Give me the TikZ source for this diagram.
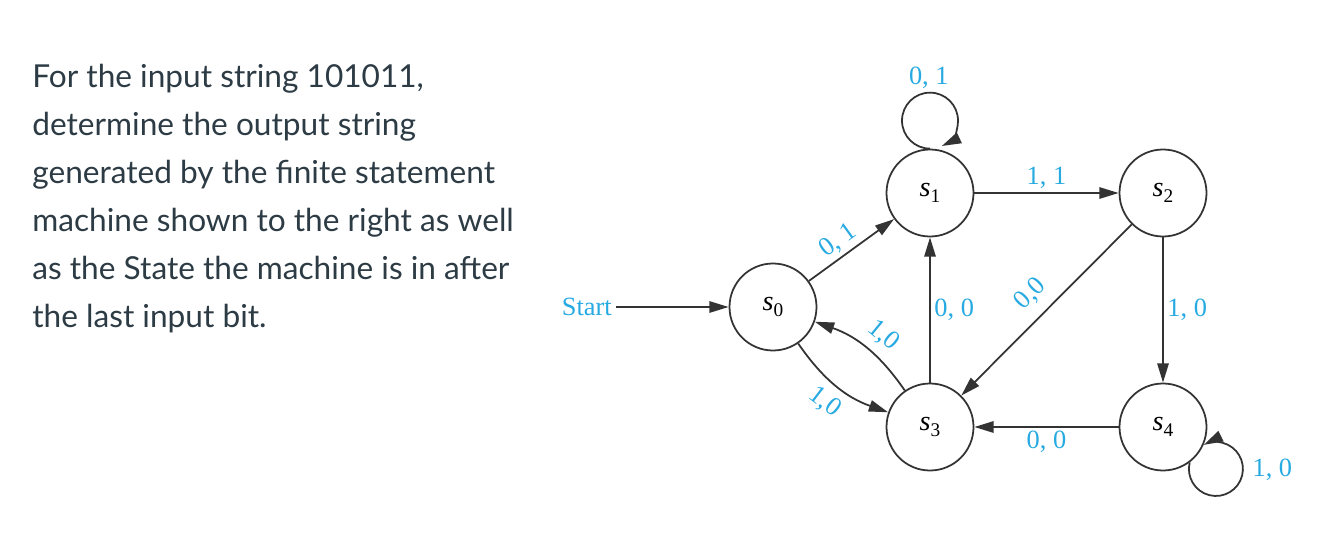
\documentclass[tikz,border=0pt]{standalone}
\usepackage{fontspec}
\setmainfont{Liberation Serif}
\newfontfamily\latofont{Lato}
\usetikzlibrary{arrows.meta,positioning,calc}
\usepackage{xcolor}
\definecolor{ink}{HTML}{2D3B45}
\definecolor{labcyan}{HTML}{27AAE1}
\definecolor{edgegray}{HTML}{333333}
\newcommand{\stname}[1]{\textit{s}\raisebox{-0.45ex}{\fontsize{11}{11}\selectfont #1}}

\begin{document}
\begin{tikzpicture}[>={Triangle[length=11pt,width=6.5pt]},
  state/.style={circle, draw=edgegray, line width=1pt, minimum size=1.74cm, inner sep=0pt, font=\fontsize{16}{18}\selectfont},
  trans/.style={->, edgegray, line width=1pt},
  lab/.style={font=\fontsize{15}{17}\selectfont, text=labcyan, inner sep=2pt}]
  \useasboundingbox (0,0) rectangle (26.52,11.16);
  \foreach \y/\txt [count=\i] in {9.42/{For the input string 101011,}, 8.46/{determine the output string},
      7.50/{generated by the finite statement}, 6.54/{machine shown to the right as well},
      5.58/{as the State the machine is in after}, 4.62/{the last input bit.}} {
    \node[anchor=base west, inner sep=0pt, text=ink, font=\latofont\fontsize{18}{20}\selectfont] (q\i) at (0.64,\y) {\txt};
  }
  \node[state] (s0) at (15.46,5.02) {\stname{0}};
  \node[state] (s1) at (18.60,7.30) {\stname{1}};
  \node[state] (s2) at (23.26,7.30) {\stname{2}};
  \node[state] (s3) at (18.60,2.62) {\stname{3}};
  \node[state] (s4) at (23.26,2.62) {\stname{4}};
  \node[lab, anchor=east] (start) at (12.31,5.02) {Start};
  \draw[trans] (start) -- (s0);
  \draw[trans] (s0) -- node[lab, sloped, above, pos=0.45] {0, 1} (s1);
  \draw[trans] (s1) -- node[lab, above] {1, 1} (s2);
  \draw[trans] (s3) -- node[lab, right] {0, 0} (s1);
  \draw[trans] (s2) -- node[lab, sloped, above=4pt] {0,0} (s3);
  \draw[trans] (s2) -- node[lab, right] {1, 0} (s4);
  \draw[trans] (s4) -- node[lab, below] {0, 0} (s3);
  \draw[trans] (s0) to[bend right=18] node[lab, sloped, below=3pt] {1,0} (s3);
  \draw[trans] (s3) to[bend right=18] node[lab, sloped, above=3pt, pos=0.45] {1,0} (s0);
  \draw[trans] (s1.north) arc[start angle=270, end angle=-65, radius=0.56cm] node[lab, above, pos=0.53] {0, 1};
  \draw[trans] (s4.-53.6) arc[start angle=166, end angle=476.7, radius=0.54cm] node[lab, right=3pt, pos=0.62] {1, 0};
\end{tikzpicture}
\end{document}
